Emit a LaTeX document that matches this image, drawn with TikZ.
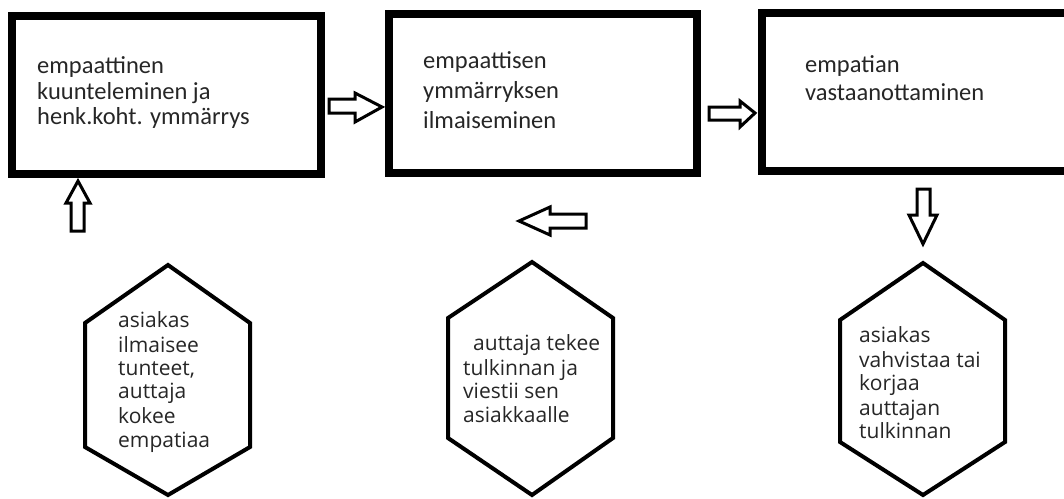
\documentclass[tikz,border=0pt]{standalone}
\usepackage{fontspec}
\setmainfont{Carlito}
\newfontfamily\hexfont{Open Sans}
\begin{document}
\begin{tikzpicture}[x=1pt,y=-1pt,
  boxline/.style={draw=black,line width=8pt,line join=miter},
  hexline/.style={draw=black,line width=4pt,line join=miter},
  blockarrow/.style={draw=black,fill=white,line width=3pt,line join=miter},
  boxtext/.style={anchor=base west,inner sep=0pt,font=\fontsize{24.5}{28}\selectfont,text=black!85},
  hextext/.style={anchor=base west,inner sep=0pt,font=\hexfont\fontsize{21}{24}\selectfont,text=black!85}]
\useasboundingbox (0,0) rectangle (1064,498);
\clip (0,0) rectangle (1064,498);
% boxes
\draw[boxline] (12,16) rectangle (321,174);
\draw[boxline] (389,14) rectangle (697,173);
\draw[boxline] (1080,12.5) -- (762,12.5) -- (762,171) -- (1080,171);
% box texts
\node[boxtext] (b1a) at (37,73) {empaattinen};
\node[boxtext] (b1b) at (37,99) {kuunteleminen ja};
\node[boxtext] (b1c) at (37,124) {henk.koht. ymmärrys};
\node[boxtext] (b2a) at (423,68) {empaattisen};
\node[boxtext] (b2b) at (423,98) {ymmärryksen};
\node[boxtext] (b2c) at (423,128) {ilmaiseminen};
\node[boxtext] (b3a) at (805,72) {empatian};
\node[boxtext] (b3b) at (805,100) {vastaanottaminen};
% hexagons
\draw[hexline] (168,265) -- (250,323) -- (250,447) -- (168,495) -- (85,447) -- (85,323) -- cycle;
\draw[hexline] (532,262) -- (613,318) -- (613,438) -- (532,495) -- (448,438) -- (448,318) -- cycle;
\draw[hexline] (923,263) -- (1005,320) -- (1005,442) -- (923,495) -- (840,442) -- (840,320) -- cycle;
% hexagon texts
\node[hextext] (h1a) at (118,327) {asiakas};
\node[hextext] (h1b) at (118,352) {ilmaisee};
\node[hextext] (h1c) at (118,375) {tunteet,};
\node[hextext] (h1d) at (118,398) {auttaja};
\node[hextext] (h1e) at (118,423) {kokee};
\node[hextext] (h1f) at (118,447) {empatiaa};
\node[hextext] (h2a) at (473,350) {auttaja tekee};
\node[hextext] (h2b) at (463,375) {tulkinnan ja};
\node[hextext] (h2c) at (463,398) {viestii sen};
\node[hextext] (h2d) at (463,422) {asiakkaalle};
\node[hextext] (h3a) at (859,342) {asiakas};
\node[hextext] (h3b) at (859,367) {vahvistaa tai};
\node[hextext] (h3c) at (859,390) {korjaa};
\node[hextext] (h3d) at (859,415) {auttajan};
\node[hextext] (h3e) at (859,438) {tulkinnan};
% block arrows
\draw[blockarrow] (329,99) -- (355,99) -- (355,93) -- (382,107) -- (355,122) -- (355,113) -- (329,113) -- cycle;
\draw[blockarrow] (709,107) -- (740,107) -- (740,101) -- (755,113) -- (740,127) -- (740,120) -- (709,120) -- cycle;
\draw[blockarrow] (71,231) -- (71,203) -- (66,203) -- (78,181) -- (90,203) -- (84,203) -- (84,231) -- cycle;
\draw[blockarrow] (917,189) -- (930,189) -- (930,215) -- (937,215) -- (923,244) -- (909,215) -- (917,215) -- cycle;
\draw[blockarrow] (586,214) -- (550,214) -- (550,207) -- (519,221) -- (550,235) -- (550,228) -- (586,228) -- cycle;
\end{tikzpicture}
\end{document}
